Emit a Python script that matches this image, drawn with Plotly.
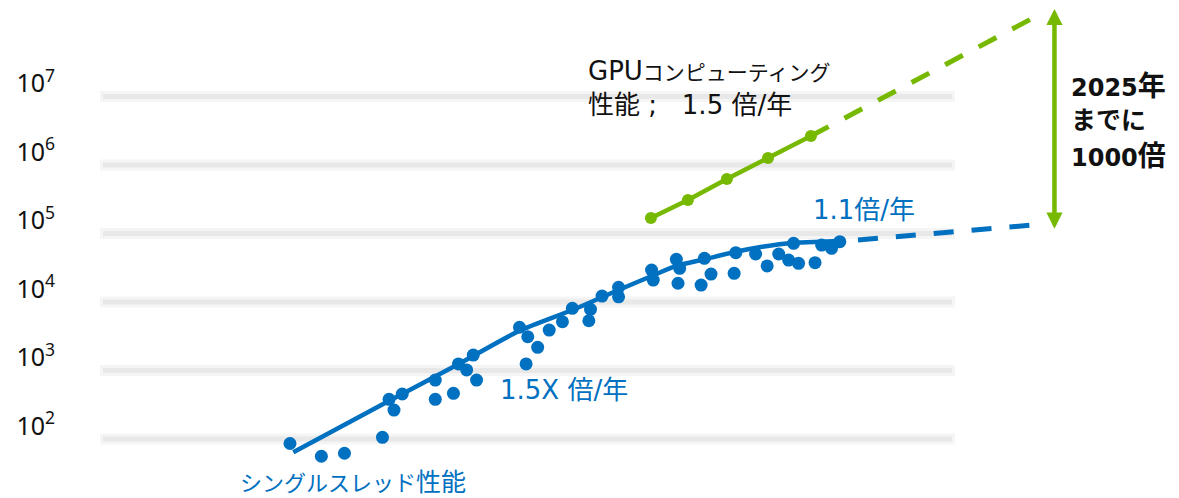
import math
import plotly.graph_objects as go

# ---------------- data ----------------
# single-thread performance (individual processors)
cpu_years = [1980.0, 1981.9, 1983.3, 1985.6, 1986.0, 1986.3, 1986.8, 1988.8, 1988.8, 1989.9,
             1990.2, 1990.7, 1991.1, 1991.3, 1993.9, 1994.4, 1994.3, 1995.0, 1995.7, 1996.5,
             1997.1, 1998.2, 1998.1, 1998.9, 1999.9, 1999.9, 2001.9, 2002.0, 2003.4, 2003.6,
             2003.5, 2005.1, 2005.5, 2004.9, 2007.0, 2006.9, 2008.2, 2008.9, 2009.6, 2010.2,
             2010.8, 2010.5, 2011.8, 2012.2, 2012.8, 2013.3]
cpu_perf = [86, 56, 62, 106, 380, 265, 454, 726, 380, 465,
            1250, 1020, 1680, 726, 4280, 3110, 1250, 2180, 3900, 5150,
            8090, 7820, 5330, 12200, 16400, 11900, 29300, 20900, 42000, 31000,
            18800, 43500, 25600, 17700, 52500, 26200, 50200, 33600, 50200, 41000,
            36700, 71900, 37500, 67900, 60800, 75900]

# single-thread trend curve
cpu_trend_years = [1980.2, 1985.9, 1990.1, 1993.9, 1997.1, 1999.9, 2001.8, 2003.4,
                   2005.1, 2007.0, 2008.6, 2010.5, 2012.1, 2013.3]
cpu_trend_perf = [64, 351, 1200, 3810, 7640, 15000, 23400, 33600,
                  42000, 54200, 64100, 73400, 75900, 77800]

# single-thread projection (1.1x / year)
cpu_proj_years = [2014.4, 2024.94]
cpu_proj_perf = [80400, 133000]

# GPU computing performance (1.5x / year)
gpu_years = [2001.86, 2004.10, 2006.46, 2008.95, 2011.55]
gpu_perf = [168000, 308000, 625000, 1265000, 2650000]

# GPU projection
gpu_proj_years = [2011.55, 2025.0]
gpu_proj_perf = [2650000, 1.40e8]

# "1000x by 2025" gap arrow
gap_year = 2026.3
gap_perf = [1.12e5, 1.9e8]

# y-axis ticks
tick_exponents = [2, 3, 4, 5, 6, 7]
tick_values = [10 ** e for e in tick_exponents]
tick_labels = [f"10<sup>{e}</sup>" for e in tick_exponents]

# ---------------- style ----------------
BLUE = "#0070C0"
GREEN = "#76B900"
BLACK = "#111111"
W, H = 1179, 498
ML = 56
FONT = "DejaVu Sans, Noto Sans CJK JP, sans-serif"


def px_x(px):
    return (px - ML) / (W - ML)


def px_y(py):
    return 1 - py / H


fig = go.Figure()

fig.add_trace(go.Scatter(x=cpu_trend_years, y=cpu_trend_perf, mode="lines",
                         line=dict(color=BLUE, width=4.5, shape="spline", smoothing=0.6),
                         hoverinfo="skip"))
fig.add_trace(go.Scatter(x=cpu_proj_years, y=cpu_proj_perf, mode="lines",
                         line=dict(color=BLUE, width=5, dash="20px,18px"), hoverinfo="skip"))
fig.add_trace(go.Scatter(x=cpu_years, y=cpu_perf, mode="markers",
                         marker=dict(color=BLUE, size=13), cliponaxis=False))

fig.add_trace(go.Scatter(x=gpu_proj_years, y=gpu_proj_perf, mode="lines",
                         line=dict(color=GREEN, width=5, dash="20px,18px"), hoverinfo="skip"))
fig.add_trace(go.Scatter(x=gpu_years, y=gpu_perf, mode="lines+markers",
                         line=dict(color=GREEN, width=4.5),
                         marker=dict(color=GREEN, size=12)))

# gridline bands
shapes = []
for v in tick_values:
    shapes.append(dict(type="line", xref="paper", yref="y", x0=px_x(100), x1=px_x(955),
                       y0=v, y1=v, line=dict(color="#f5f5f5", width=11), layer="below"))
    shapes.append(dict(type="line", xref="paper", yref="y", x0=px_x(103), x1=px_x(952),
                       y0=v, y1=v, line=dict(color="#e8e8e8", width=5), layer="below"))

annotations = []
# gap arrow
annotations.append(dict(xref="x", yref="y", axref="x", ayref="y",
                        x=gap_year, y=math.log10(gap_perf[1]),
                        ax=gap_year, ay=math.log10(gap_perf[0]),
                        text="", showarrow=True, arrowside="end+start",
                        arrowhead=2, startarrowhead=2, arrowsize=0.72, startarrowsize=0.72,
                        arrowwidth=4.5, arrowcolor=GREEN))


def label(text, px, py, size, color, bold=False):
    annotations.append(dict(xref="paper", yref="paper", x=px_x(px), y=px_y(py),
                            xanchor="left", yanchor="middle", showarrow=False,
                            text=text, align="left",
                            font=dict(family=FONT, size=size, color=color,
                                      weight="bold" if bold else "normal")))


KANA = '<span style="font-size:{}px">{}</span>'
label("GPU" + KANA.format(21, "コンピューティング"), 586, 71, 26, BLACK)
label("性能 ;\u00a0\u00a0 1.5 倍/年", 586, 105, 26, BLACK)
label("1.1倍/年", 811, 210, 26, BLUE)
label("1.5X 倍/年", 498, 390, 26, BLUE)
label(KANA.format(22, "シングルスレッド") + "性能", 238, 482, 25, BLUE)
label("2025" + KANA.format(28, "年"), 1069, 86, 24, BLACK, True)
label(KANA.format(25, "までに"), 1069, 120, 24, BLACK, True)
label("1000" + KANA.format(28, "倍"), 1069, 156, 24, BLACK, True)

fig.update_layout(
    width=W, height=H,
    margin=dict(l=ML, r=0, t=0, b=0),
    paper_bgcolor="white", plot_bgcolor="white",
    showlegend=False,
    shapes=shapes, annotations=annotations,
    xaxis=dict(range=[1965.828, 2033.843], visible=False, showgrid=False, zeroline=False),
    yaxis=dict(type="log", range=[1.139, 8.409], tickvals=tick_values, ticktext=tick_labels,
               showgrid=False, zeroline=False, showline=False, ticks="",
               ticklabelshift=-13,
               tickfont=dict(family="Noto Sans, DejaVu Sans, sans-serif", size=25, color=BLACK)),
)

fig.write_html("out.html", config={"displayModeBar": False},
               post_script="document.body.style.margin='0';document.body.style.overflow='hidden';")
